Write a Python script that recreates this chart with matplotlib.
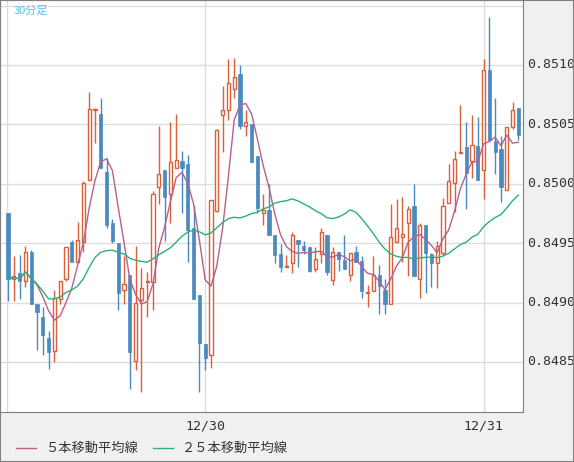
import numpy as np
import pandas as pd
import matplotlib
matplotlib.use("Agg")
import matplotlib.pyplot as plt
from matplotlib.patches import Rectangle

plt.rcParams['font.family'] = ['Noto Sans CJK JP', 'DejaVu Sans']

# 30-minute candles, prices in pips (x 0.0001)
opens = [8497.5, 8492.0, 8492.5, 8491.8, 8494.3, 8489.9, 8488.8, 8487.0, 8485.9, 8490.3,
         8492.0, 8495.1, 8493.4, 8495.1, 8500.3, 8506.2, 8505.9, 8501.0, 8496.7, 8495.0,
         8491.1, 8492.3, 8485.1, 8490.2, 8491.7, 8491.7, 8499.7, 8501.2, 8499.1, 8501.3,
         8501.9, 8501.7, 8496.3, 8490.6, 8486.5, 8485.6, 8497.7, 8505.8, 8506.2, 8508.0,
         8509.2, 8504.9, 8505.0, 8502.3, 8497.5, 8497.8, 8495.7, 8494.1, 8493.0, 8493.3,
         8495.3, 8494.8, 8494.7, 8492.8, 8494.1, 8495.7, 8491.9, 8494.3, 8493.6, 8492.3,
         8494.3, 8493.5, 8490.8, 8491.0, 8492.3, 8491.1, 8489.9, 8495.1, 8495.5, 8496.7,
         8498.1, 8492.0, 8496.5, 8494.1, 8493.3, 8494.2, 8498.4, 8500.1, 8502.6, 8503.1,
         8501.9, 8503.2, 8501.2, 8509.6, 8503.6, 8502.9, 8499.5, 8504.8, 8506.4]
highs = [8497.5, 8493.9, 8494.0, 8494.8, 8494.4, 8489.9, 8489.6, 8487.6, 8491.1, 8491.8,
         8494.7, 8495.3, 8496.8, 8500.2, 8507.7, 8506.4, 8507.2, 8502.2, 8497.0, 8495.0,
         8493.9, 8492.3, 8494.8, 8492.9, 8492.6, 8499.4, 8504.9, 8501.2, 8505.2, 8505.9,
         8502.8, 8502.4, 8498.1, 8490.6, 8486.5, 8498.6, 8504.6, 8508.2, 8510.5, 8510.6,
         8510.0, 8506.2, 8505.0, 8502.3, 8499.1, 8500.0, 8495.7, 8494.9, 8494.0, 8495.9,
         8495.3, 8495.2, 8494.7, 8494.7, 8496.3, 8495.7, 8494.7, 8494.3, 8495.7, 8494.2,
         8494.8, 8493.9, 8491.5, 8493.9, 8493.2, 8492.0, 8498.3, 8498.7, 8498.9, 8498.1,
         8500.0, 8496.7, 8496.5, 8494.2, 8495.2, 8498.8, 8501.7, 8502.8, 8506.6, 8505.2,
         8505.8, 8505.6, 8510.5, 8514.0, 8507.2, 8504.0, 8504.8, 8506.9, 8506.4]
lows = [8490.1, 8490.1, 8490.3, 8491.3, 8489.9, 8486.0, 8485.6, 8484.4, 8485.0, 8489.9,
        8491.8, 8493.4, 8493.3, 8494.3, 8500.3, 8503.4, 8501.3, 8496.3, 8495.0, 8489.4,
        8489.9, 8482.7, 8484.3, 8482.5, 8488.8, 8489.4, 8498.3, 8495.2, 8496.7, 8501.3,
        8497.5, 8493.4, 8490.3, 8482.5, 8484.3, 8484.5, 8497.6, 8502.7, 8505.4, 8507.2,
        8504.6, 8504.0, 8501.8, 8497.5, 8496.5, 8495.7, 8493.3, 8492.6, 8493.0, 8492.5,
        8493.0, 8494.1, 8492.6, 8492.6, 8493.3, 8492.3, 8491.5, 8492.7, 8492.8, 8491.8,
        8493.4, 8490.4, 8489.6, 8491.0, 8489.0, 8489.0, 8489.9, 8495.1, 8493.4, 8492.2,
        8492.2, 8490.4, 8490.8, 8491.3, 8491.2, 8494.0, 8498.4, 8497.6, 8502.6, 8497.9,
        8500.5, 8500.3, 8498.7, 8503.7, 8500.8, 8498.5, 8499.5, 8504.6, 8503.7]
closes = [8492.0, 8492.2, 8491.8, 8494.3, 8489.9, 8489.2, 8487.3, 8485.8, 8490.4, 8491.8,
          8494.7, 8493.4, 8495.3, 8500.1, 8506.3, 8506.3, 8501.3, 8496.5, 8495.2, 8490.8,
          8491.6, 8485.8, 8490.0, 8491.2, 8491.8, 8499.1, 8500.8, 8498.9, 8501.8, 8502.0,
          8501.3, 8496.1, 8490.3, 8486.6, 8485.3, 8498.6, 8504.5, 8506.2, 8508.5, 8509.0,
          8504.9, 8505.2, 8501.8, 8498.0, 8497.8, 8495.7, 8494.0, 8493.0, 8493.1, 8495.7,
          8494.9, 8494.4, 8492.7, 8493.7, 8495.9, 8492.6, 8494.3, 8493.7, 8492.8, 8494.2,
          8493.4, 8491.0, 8490.9, 8492.3, 8491.4, 8489.9, 8495.5, 8496.3, 8495.8, 8497.9,
          8492.2, 8496.5, 8494.2, 8493.3, 8494.8, 8498.1, 8500.2, 8502.1, 8502.7, 8500.9,
          8503.3, 8500.3, 8509.6, 8503.7, 8502.7, 8499.7, 8504.8, 8506.2, 8504.1]

date_pos = [34, 82]
date_labels = ['12/30', '12/31']
yticks = [0.8485, 0.8490, 0.8495, 0.8500, 0.8505, 0.8510]

o = np.array(opens) / 1e4
h = np.array(highs) / 1e4
l = np.array(lows) / 1e4
c = np.array(closes) / 1e4
ma5 = pd.Series(c).rolling(5, min_periods=1).mean()
ma25 = pd.Series(c).rolling(25, min_periods=1).mean()

up_col = '#d9603b'
dn_col = '#4a8abf'
bg = '#f0f0f0'

fig = plt.figure(figsize=(5.74, 4.62), dpi=100, facecolor=bg)
ax = fig.add_axes([0.0, 1 - 412 / 462, 523 / 574, 412 / 462], facecolor='white')

ax.set_yticks(yticks + [0.8515])
ax.set_xticks([-0.2] + date_pos)
ax.grid(True, color='#dddddd', lw=1)
ax.set_axisbelow(True)

w = 0.55
for i in range(len(o)):
    up = c[i] >= o[i]
    col = up_col if up else dn_col
    ax.vlines(i, l[i], h[i], color=col, lw=1, zorder=2)
    lo, hi = min(o[i], c[i]), max(o[i], c[i])
    hgt = max(hi - lo, 0.000003)
    if up:
        ax.add_patch(Rectangle((i - w / 2, lo), w, hgt, facecolor='white',
                               edgecolor=col, lw=1, zorder=3))
    else:
        ax.add_patch(Rectangle((i - w / 2, lo), w, hgt, facecolor=col,
                               edgecolor=col, lw=0.5, zorder=3))

x = np.arange(len(c))
ax.plot(x, ma5, color='#b5608f', lw=1, zorder=4)
ax.plot(x, ma25, color='#2db074', lw=1, zorder=4)

ax.set_xlim(-1.38, 88.8)
ax.set_ylim(0.848079, 0.851547)
ax.tick_params(length=0, labelleft=False, labelbottom=False)
for s in ax.spines.values():
    s.set_color('#808080')

for v in yticks:
    ax.text(1.008, v, '%.4f' % v, transform=ax.get_yaxis_transform(),
            va='center', ha='left', family='DejaVu Sans Mono', fontsize=9.5, color='#333333')
for p, t in zip(date_pos, date_labels):
    ax.text(p, -0.018, t, transform=ax.get_xaxis_transform(), ha='center', va='top',
            family='DejaVu Sans Mono', fontsize=9.5, color='#333333')

fig.text(14 / 574, 1 - 11 / 462, '30分足', color='#4fc3f0', fontsize=8, va='center')

fig.add_artist(plt.Line2D([16 / 574, 36 / 574], [1 - 448 / 462] * 2, color='#b5608f', lw=1))
fig.text(45 / 574, 1 - 448 / 462, '５本移動平均線', fontsize=9.5, va='center', color='#333333')
fig.add_artist(plt.Line2D([153 / 574, 173 / 574], [1 - 448 / 462] * 2, color='#2db074', lw=1))
fig.text(182 / 574, 1 - 448 / 462, '２５本移動平均線', fontsize=9.5, va='center', color='#333333')

fig.add_artist(Rectangle((0, 0), 1, 1, transform=fig.transFigure, fill=False,
                         edgecolor='#808080', lw=1.5))

fig.savefig('out.png', dpi=100, facecolor=bg)
